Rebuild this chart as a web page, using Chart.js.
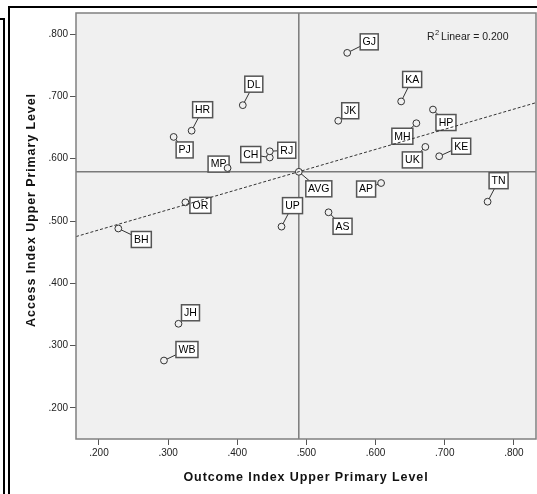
<!DOCTYPE html>
<html>
<head>
<meta charset="utf-8">
<script src="https://cdn.jsdelivr.net/npm/chart.js@4"></script>
<style>
  html, body { margin: 0; padding: 0; background: #fff; }
  canvas { display: block; }
</style>
</head>
<body>
<canvas id="scatterChart" width="537" height="494"></canvas>
<script>
// data
const states = ['AVG', 'AP', 'AS', 'BH', 'CH', 'DL', 'GJ', 'HP', 'HR', 'JH', 'JK',
                'KA', 'KE', 'MH', 'MP', 'OR', 'PJ', 'RJ', 'TN', 'UK', 'UP', 'WB'];
const outcomeIndex = [0.489, 0.608, 0.532, 0.228, 0.447, 0.408, 0.559, 0.683, 0.334, 0.315, 0.546,
                      0.637, 0.692, 0.659, 0.386, 0.325, 0.308, 0.447, 0.762, 0.672, 0.464, 0.294];
const accessIndex = [0.579, 0.561, 0.514, 0.488, 0.602, 0.686, 0.770, 0.679, 0.645, 0.335, 0.661,
                     0.692, 0.604, 0.657, 0.585, 0.530, 0.635, 0.612, 0.531, 0.619, 0.491, 0.276];
const fitX = [0.1668, 0.832];
const fitY = [0.475, 0.690];
const xTicks = [0.2, 0.3, 0.4, 0.5, 0.6, 0.7, 0.8];
const xTickLabels = ['.200', '.300', '.400', '.500', '.600', '.700', '.800'];
const yTicks = [0.2, 0.3, 0.4, 0.5, 0.6, 0.7, 0.8];
const yTickLabels = ['.200', '.300', '.400', '.500', '.600', '.700', '.800'];
const rSquaredText = 'Linear = 0.200';

// where each label box sits, relative to its point (px)
const labelOffset = {
    AVG: [20, 17], AP: [-15, 6], AS: [14, 14], BH: [23, 11], CH: [-19, -3], DL: [11, -21],
    GJ: [22, -11], HP: [13, 13], HR: [11, -21], JH: [12, -11], JK: [12, -10], KA: [11, -22],
    KE: [22, -10], MH: [-14, 13], MP: [-9, -4], OR: [15, 3], PJ: [11, 13], RJ: [17, -1],
    TN: [11, -21], UK: [-13, 13], UP: [11, -21], WB: [23, -11]
};

const FONT = 'Arial, "Liberation Sans", sans-serif';

const spssPlugin = {
    id: 'spssLook',
    beforeDraw(chart) {
        const { ctx, chartArea: a } = chart;
        ctx.save();
        ctx.fillStyle = '#f0f0f0';
        ctx.fillRect(a.left, a.top, a.right - a.left, a.bottom - a.top);
        ctx.restore();
    },
    beforeDatasetsDraw(chart) {
        const { ctx, chartArea: a, scales } = chart;
        const xs = scales.x, ys = scales.y;
        ctx.save();
        // reference lines through the average
        const rx = xs.getPixelForValue(outcomeIndex[0]);
        const ry = ys.getPixelForValue(accessIndex[0]);
        ctx.strokeStyle = '#7a7a7a';
        ctx.lineWidth = 1.5;
        ctx.beginPath();
        ctx.moveTo(rx, a.top); ctx.lineTo(rx, a.bottom);
        ctx.moveTo(a.left, ry); ctx.lineTo(a.right, ry);
        ctx.stroke();

        // point labels
        ctx.font = '10.5px ' + FONT;
        ctx.textAlign = 'center';
        ctx.textBaseline = 'middle';
        states.forEach(function (name, i) {
            const px = xs.getPixelForValue(outcomeIndex[i]);
            const py = ys.getPixelForValue(accessIndex[i]);
            const off = labelOffset[name] || [10, -10];
            const cx = px + off[0], cy = py + off[1];
            const w = Math.round(ctx.measureText(name).width) + 5;
            const h = 16;
            ctx.strokeStyle = '#333';
            ctx.lineWidth = 1;
            ctx.beginPath();
            ctx.moveTo(px, py); ctx.lineTo(cx, cy);
            ctx.stroke();
            ctx.fillStyle = '#fff';
            ctx.fillRect(cx - w / 2, cy - h / 2, w, h);
            ctx.strokeStyle = '#555';
            ctx.lineWidth = 1.5;
            ctx.strokeRect(cx - w / 2, cy - h / 2, w, h);
            ctx.fillStyle = '#000';
            ctx.fillText(name, cx, cy + 0.5);
        });
        ctx.restore();
    },
    afterDraw(chart) {
        const { ctx, chartArea: a } = chart;
        ctx.save();
        // plot frame
        ctx.strokeStyle = '#808080';
        ctx.lineWidth = 1.5;
        ctx.strokeRect(a.left, a.top, a.right - a.left, a.bottom - a.top);

        // outer black frame
        ctx.strokeStyle = '#000';
        ctx.lineWidth = 2;
        ctx.beginPath();
        ctx.moveTo(9, 494); ctx.lineTo(9, 7); ctx.lineTo(537, 7);
        ctx.moveTo(0, 19); ctx.lineTo(4, 19); ctx.lineTo(4, 494);
        ctx.stroke();

        // axis titles
        ctx.fillStyle = '#111';
        ctx.font = 'bold 12.5px ' + FONT;
        ctx.letterSpacing = '0.9px';
        ctx.textAlign = 'center';
        ctx.textBaseline = 'middle';
        ctx.fillText('Outcome Index Upper Primary Level', (a.left + a.right) / 2, 478);
        ctx.translate(32, 210);
        ctx.rotate(-Math.PI / 2);
        ctx.fillText('Access Index Upper Primary Level', 0, 0);
        ctx.setTransform(1, 0, 0, 1, 0, 0);
        ctx.letterSpacing = '0px';

        // R squared note
        ctx.fillStyle = '#222';
        ctx.textAlign = 'left';
        ctx.font = '10.5px ' + FONT;
        ctx.fillText('R', 427, 37);
        const rw = ctx.measureText('R').width;
        ctx.font = '7.5px ' + FONT;
        ctx.fillText('2', 427 + rw + 0.5, 33);
        ctx.font = '10.5px ' + FONT;
        ctx.fillText(rSquaredText, 427 + rw + 6.5, 37);
        ctx.restore();
    }
};

const ctxScatter = document.getElementById('scatterChart');
new Chart(ctxScatter, {
    type: 'scatter',
    data: {
        datasets: [
            {
                label: 'Linear fit',
                type: 'line',
                data: fitX.map(function (x, i) { return { x: x, y: fitY[i] }; }),
                borderColor: '#333',
                borderWidth: 1,
                borderDash: [3, 2],
                pointRadius: 0,
                fill: false
            },
            {
                label: 'States',
                data: states.map(function (s, i) { return { x: outcomeIndex[i], y: accessIndex[i] }; }),
                pointRadius: 3.4,
                pointBorderWidth: 1,
                borderColor: '#333',
                backgroundColor: '#f0f0f0'
            }
        ]
    },
    options: {
        responsive: false,
        animation: false,
        layout: { autoPadding: false, padding: { top: 13, right: 1, left: 0, bottom: 0 } },
        plugins: { legend: { display: false }, tooltip: { enabled: false } },
        scales: {
            x: {
                type: 'linear',
                min: 0.1668,
                max: 0.832,
                afterBuildTicks: function (scale) { scale.ticks = xTicks.map(function (v) { return { value: v }; }); },
                afterFit: function (scale) { scale.height = 55; scale.paddingLeft = 0; scale.paddingRight = 0; },
                grid: { drawOnChartArea: false, drawTicks: true, tickLength: 6, color: '#555' },
                border: { display: false },
                ticks: {
                    color: '#222',
                    padding: 2,
                    maxRotation: 0,
                    font: { family: FONT, size: 10 },
                    callback: function (v) { return xTickLabels[xTicks.indexOf(v)]; }
                }
            },
            y: {
                type: 'linear',
                min: 0.150,
                max: 0.834,
                afterBuildTicks: function (scale) { scale.ticks = yTicks.map(function (v) { return { value: v }; }); },
                afterFit: function (scale) { scale.width = 76; scale.paddingTop = 0; scale.paddingBottom = 0; },
                grid: { drawOnChartArea: false, drawTicks: true, tickLength: 6, color: '#555' },
                border: { display: false },
                ticks: {
                    color: '#222',
                    padding: 2,
                    font: { family: FONT, size: 10 },
                    callback: function (v) { return yTickLabels[yTicks.indexOf(v)]; }
                }
            }
        }
    },
    plugins: [spssPlugin]
});
</script>
</body>
</html>
